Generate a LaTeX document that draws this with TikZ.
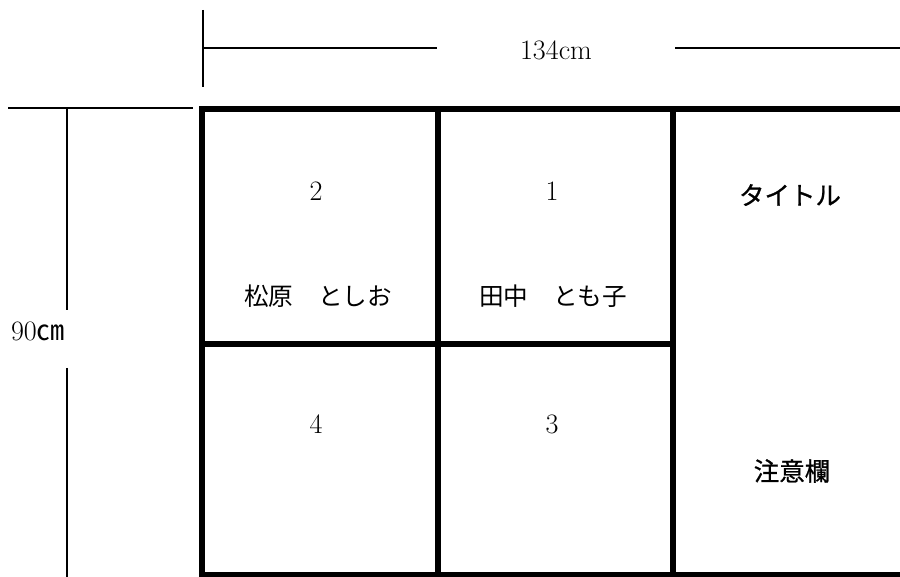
\documentclass[tikz,border=0pt]{standalone}
\usepackage{fontspec}
\usepackage{tikz}
\newfontfamily\jpfont{Noto Sans CJK JP}
\newfontfamily\jphead[FakeBold=0.8]{Noto Sans CJK JP}
\tikzset{
  thin line/.style={line width=0.8pt},
  frame line/.style={line width=3.4pt},
  label text/.style={font=\fontsize{16}{19}\selectfont, inner sep=0pt},
  name text/.style={font=\jpfont\fontsize{14}{17}\selectfont, inner sep=0pt},
  head text/.style={font=\jphead\fontsize{14.5}{17}\selectfont, inner sep=0pt},
}
\begin{document}
\begin{tikzpicture}[x=0.02cm,y=-0.02cm]
        \useasboundingbox (0,0) rectangle (900,577);
        % dimension marks
        \draw[thin line] (203,10) -- (203,87);
        \draw[thin line] (203,48) -- (437,48);
        \node[label text] (width) at (556,50) {134cm};
        \draw[thin line] (675,48) -- (900,48);
        \draw[thin line] (8,108) -- (193,108);
        \draw[thin line] (67,108) -- (67,310);
        \node[label text] (height) at (38,331) {90{\jpfont ㎝}};
        \draw[thin line] (67,368) -- (67,577);
        % frame
        \draw[frame line] (900,109) -- (202,109) -- (202,575) -- (900,575);
        \draw[frame line] (438,109) -- (438,575);
        \draw[frame line] (673,109) -- (673,575);
        \draw[frame line] (202,344) -- (673,344);
        % cells
        \node[label text] (n2) at (316,191) {2};
        \node[label text] (n1) at (552,191) {1};
        \node[label text] (n4) at (316,424) {4};
        \node[label text] (n3) at (552,424) {3};
        \node[name text] (matsubara) at (318,296) {松原\quad としお};
        \node[name text] (tanaka) at (553,296) {田中\quad とも子};
        \node[head text] (title) at (790,195) {タイトル};
        \node[head text] (notes) at (792,471) {注意欄};
\end{tikzpicture}
\end{document}
